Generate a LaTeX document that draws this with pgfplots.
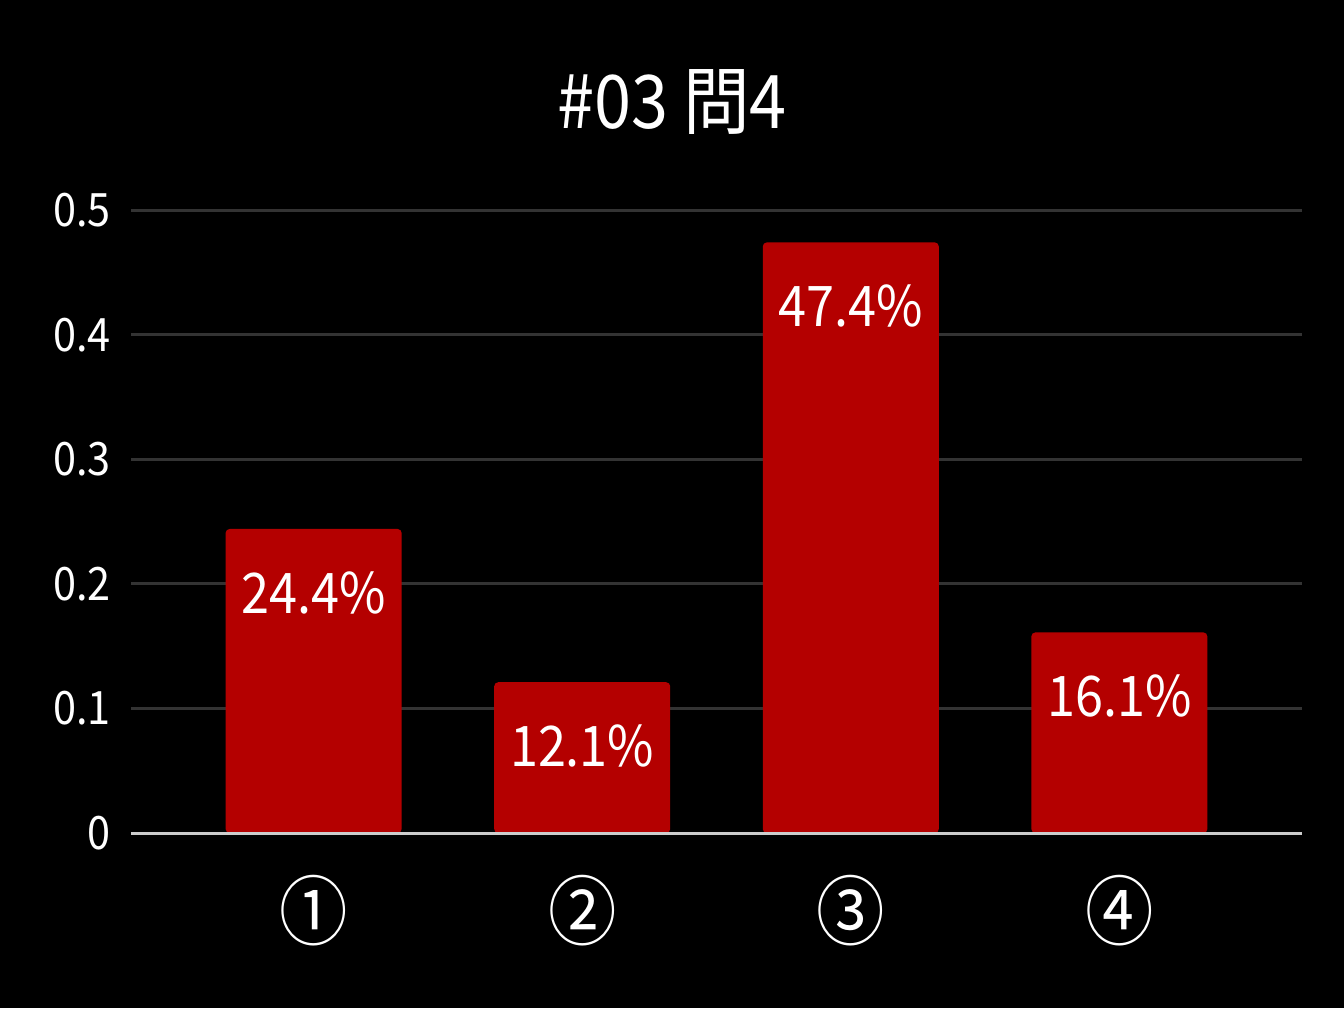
\documentclass[border=0pt]{standalone}
\usepackage{fontspec}
\setmainfont{Noto Sans CJK JP}[FakeStretch=0.9]
\usepackage{pgfplots}
\pgfplotsset{compat=1.18}
\definecolor{barred}{HTML}{B40000}
\definecolor{gridc}{HTML}{333333}
\definecolor{basec}{HTML}{CCCCCC}
\begin{document}
\begin{tikzpicture}
\fill[black] (0,0) rectangle (672pt,504pt);
\node[white, font=\fontsize{37}{42}\selectfont] at (336pt,453pt) {\#03 問4};
\begin{axis}[
  at={(65.5pt,87.5pt)}, anchor=south west,
  scale only axis, width=585.5pt, height=311.5pt,
  xmin=0.32, xmax=4.68, ymin=0, ymax=0.5,
  axis line style={draw=none},
  major tick length=0pt,
  ytick={0,0.1,0.2,0.3,0.4,0.5},
  yticklabels={0,0.1,0.2,0.3,0.4,0.5},
  xtick={1,2,3,4},
  xticklabels={①,②,③,④},
  ymajorgrids, grid style={gridc, line width=1.5pt},
  yticklabel style={white, font=\fontsize{23}{26}\selectfont, xshift=-6.5pt},
  xticklabel style={white, font=\fontsize{38}{42}\selectfont, anchor=center, yshift=-39pt},
  /pgf/number format/assume math mode=true,
  clip=false,
]
\addplot[ybar, bar width=88pt, fill=barred, draw=none, rounded corners=2pt,
  point meta=explicit symbolic, nodes near coords,
  every node near coord/.append style={white, anchor=center, yshift=-32pt, font=\fontsize{28}{32}\selectfont}]
  coordinates {(1,0.244) [24.4\%] (2,0.121) [12.1\%] (3,0.474) [47.4\%] (4,0.161) [16.1\%]};
\draw[basec, line width=1.5pt] (axis cs:0.32,0) -- (axis cs:4.68,0);
\end{axis}
\end{tikzpicture}
\end{document}
